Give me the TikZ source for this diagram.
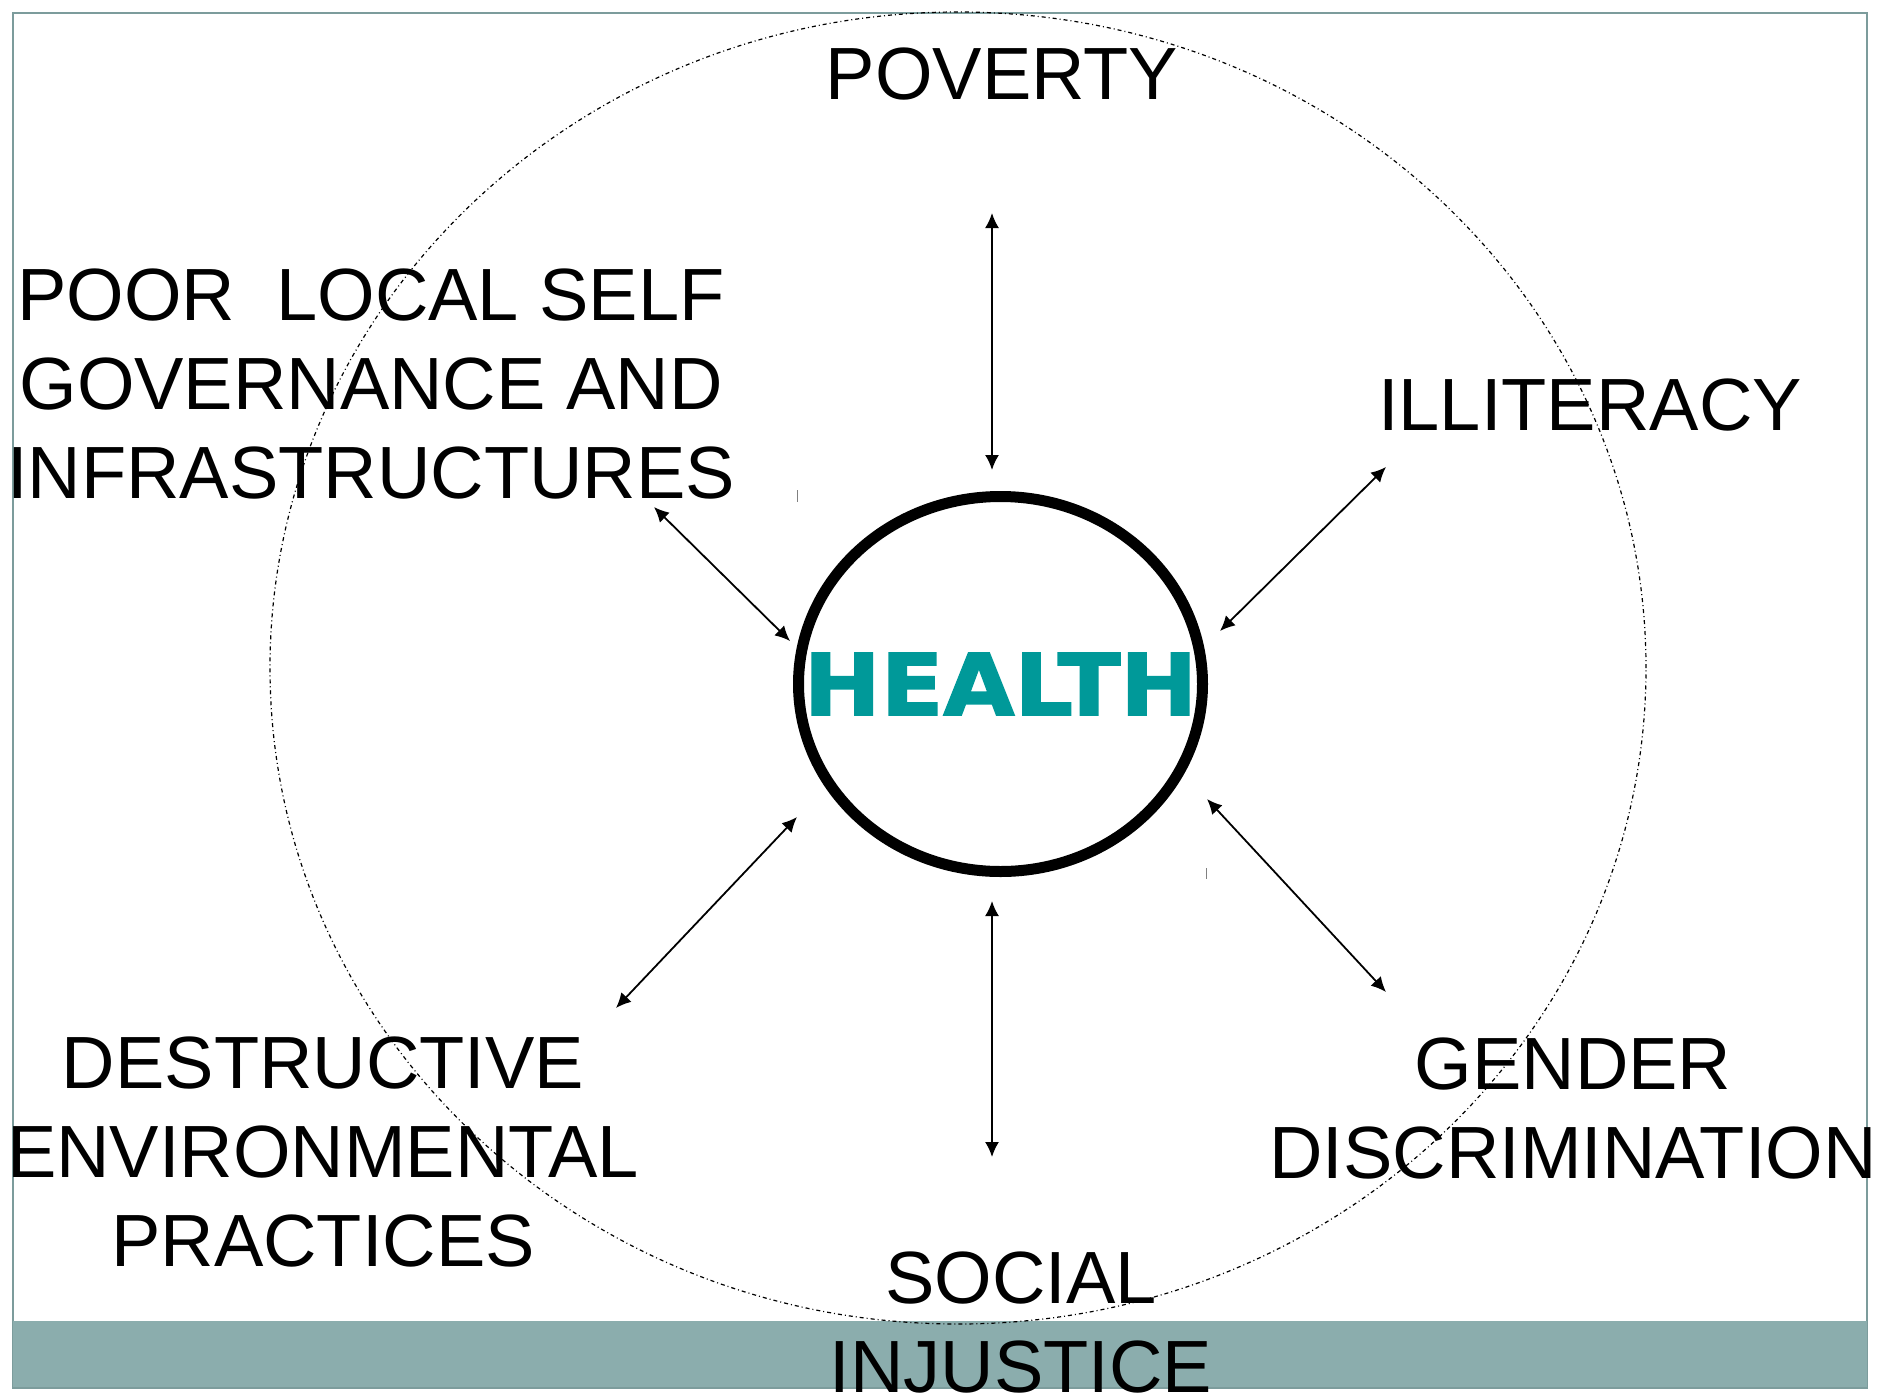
\documentclass[tikz,border=0pt]{standalone}
\usepackage{fontspec}
\setmainfont{Liberation Sans}
\newfontfamily\healthfont[FakeStretch=1.08,FakeBold=2]{DejaVu Sans}
\usepackage{tikz}
\usetikzlibrary{arrows.meta,%
                shapes.geometric}
\definecolor{frameteal}{HTML}{7C9C9C}
\definecolor{barteal}{HTML}{8BADAD}
\definecolor{healthteal}{HTML}{009999}

\begin{document}
\begin{tikzpicture}[x=0.5pt,y=-0.5pt]
		\tikzset{LabelStyle/.style = {font=\fontsize{37}{44.5}\selectfont,align=center,anchor=base,inner sep=0pt}}
		\tikzset{HealthStyle/.style = {draw=black,shape=ellipse,line width=5.5pt,minimum width=202pt,minimum height=187.5pt,inner sep=0pt,text=healthteal,font=\healthfont\bfseries\fontsize{42.5}{50}\selectfont}}
		\tikzset{EdgeStyle/.style = {<->,>={Latex[length=7.5pt,width=7pt]},line width=0.9pt}}
		\useasboundingbox (0,0) rectangle (1879,1397);
		% slide frame and bottom bar
		\draw[frameteal,line width=1pt] (13,13) rectangle (1867,1388);
		\fill[barteal] (13,1321) rectangle (1867,1387);
		\draw[line width=0.6pt,dash pattern=on 2pt off 1.5pt on 0.5pt off 1.5pt] (958,668) ellipse [x radius=344pt,y radius=328pt];
		\node[HealthStyle] (health) at (1000.5,684) {\makebox[0pt][c]{HEALTH}};
		% labels, anchored on the last line
		\node[LabelStyle] (poverty) at (1002,99.5) {POVERTY};
		\node[LabelStyle] (governance) at (371,498) {POOR\ \ LOCAL SELF\\GOVERNANCE AND\\INFRASTRUCTURES};
		\node[LabelStyle] (illiteracy) at (1590,430) {ILLITERACY};
		\node[LabelStyle] (environment) at (323,1266) {DESTRUCTIVE\\ENVIRONMENTAL\\PRACTICES};
		\node[LabelStyle] (gender) at (1573,1178) {GENDER\\DISCRIMINATION};
		\node[LabelStyle] (injustice) at (1021,1392) {SOCIAL\\INJUSTICE};
		% arrow ends
		\coordinate (pov-out) at (992,213);
		\coordinate (pov-in) at (992,470);
		\coordinate (ill-out) at (1386,467);
		\coordinate (ill-in) at (1220,631);
		\coordinate (gov-out) at (654,507);
		\coordinate (gov-in) at (790,641);
		\coordinate (env-out) at (616,1008);
		\coordinate (env-in) at (797,817);
		\coordinate (inj-out) at (992,1157);
		\coordinate (inj-in) at (992,901);
		\coordinate (gen-out) at (1386,992);
		\coordinate (gen-in) at (1207,799);
		\draw[EdgeStyle] (pov-out) -- (pov-in);
		\draw[EdgeStyle] (ill-out) -- (ill-in);
		\draw[EdgeStyle] (gov-out) -- (gov-in);
		\draw[EdgeStyle] (env-out) -- (env-in);
		\draw[EdgeStyle] (inj-out) -- (inj-in);
		\draw[EdgeStyle] (gen-out) -- (gen-in);
		%\draw[gray] small marks
		\draw[gray,line width=0.5pt] (797.5,490) -- (797.5,502);
		\draw[gray,line width=0.5pt] (1206,868) -- (1206,879);
	\end{tikzpicture}
\end{document}
